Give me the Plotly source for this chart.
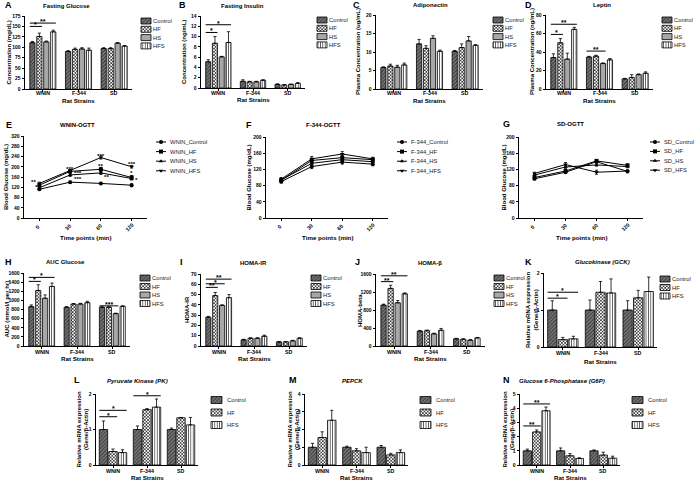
import plotly.graph_objects as go

W, H = 700, 483
FONT = "Liberation Sans, Arial, Helvetica, sans-serif"

STRAINS = ["WNIN", "F-344", "SD"]
DIETS4 = ["Control", "HF", "HS", "HFS"]
DIETS3 = ["Control", "HF", "HFS"]
TIMES = ["0", "30", "60", "120"]

# rows = diets, columns = strains (WNIN, F-344, SD)
glucose_mean = [[111, 90, 97], [126, 95, 97], [113, 96, 110], [137, 93, 103]]
glucose_sem = [[3, 2, 2], [8, 3, 2], [2, 3, 1], [4, 5, 1]]
insulin_mean = [[5.1, 1.3, 0.7], [8.7, 1.2, 0.6], [6.05, 1.2, 0.7], [8.85, 1.5, 0.9]]
insulin_sem = [[0.4, 0.3, 0.1], [1.3, 0.1, 0.05], [0.1, 0.1, 0.05], [2.1, 0.1, 0.15]]
adipo_mean = [[5.8, 12.2, 10.2], [6.2, 11.0, 11.2], [5.9, 13.7, 13.0], [6.5, 10.2, 11.8]]
adipo_sem = [[0.2, 1.2, 0.2], [0.5, 0.7, 1.0], [0.5, 0.7, 1.2], [0.5, 0.3, 0.2]]
leptin_mean = [[34, 34.5, 11], [50, 35.5, 12.5], [32.3, 27.5, 15.5], [64.5, 31.5, 17]]
leptin_sem = [[4, 0.8, 0.5], [4.5, 1, 3], [6.4, 0.7, 0.8], [2.2, 1.5, 1.5]]
auc_mean = [[863, 850, 850], [1217, 920, 850], [1047, 920, 710], [1305, 950, 870]]
auc_sem = [[37, 10, 10], [125, 10, 10], [73, 15, 10], [74, 30, 10]]
homa_ir_mean = [[28, 6, 4], [49, 7.5, 4], [39.5, 7.5, 5], [47, 9.5, 7.5]]
homa_ir_sem = [[0.8, 0.5, 0.3], [3, 0.5, 0.3], [0.5, 0.5, 0.5], [3, 1, 0.5]]
homa_b_mean = [[910, 330, 160], [1280, 340, 150], [960, 270, 130], [1160, 350, 180]]
homa_b_sem = [[20, 15, 10], [70, 15, 10], [50, 15, 10], [20, 40, 10]]
gck_mean = [[1.0, 1.0, 1.0], [0.2, 1.48, 1.33], [0.22, 1.46, 1.5]]
gck_sem = [[0.25, 0.27, 0.25], [0.06, 0.29, 0.2], [0.07, 0.38, 0.39]]
pk_mean = [[1.0, 1.0, 1.0], [0.38, 1.56, 1.33], [0.35, 1.63, 1.13]]
pk_sem = [[0.24, 0.1, 0.04], [0.07, 0.03, 0.01], [0.08, 0.23, 0.21]]
pepck_mean = [[1.0, 1.0, 1.0], [1.55, 0.8, 0.57], [2.52, 0.7, 0.7]]
pepck_sem = [[0.22, 0.06, 0.1], [0.32, 0.12, 0.09], [0.56, 0.3, 0.15]]
g6p_mean = [[1.0, 1.0, 1.0], [2.33, 0.65, 0.7], [3.82, 0.46, 0.48]]
g6p_sem = [[0.12, 0.2, 0.06], [0.14, 0.15, 0.2], [0.26, 0.05, 0.14]]

# OGTT: rows = diets (Control, HF, HS, HFS), columns = time points
wnin_ogtt = [[112, 140, 135, 128], [128, 182, 190, 158], [118, 168, 176, 154], [135, 184, 236, 200]]
wnin_ogtt_sem = [[4, 4, 4, 6], [5, 6, 8, 8], [4, 6, 6, 6], [5, 5, 6, 5]]
f344_ogtt = [[90, 127, 138, 133], [93, 142, 149, 144], [94, 135, 144, 139], [96, 146, 158, 146]]
f344_ogtt_sem = [[4, 5, 5, 4], [4, 5, 5, 4], [4, 6, 6, 5], [4, 6, 6, 4]]
sd_ogtt = [[97, 113, 139, 115], [100, 116, 141, 130], [106, 126, 131, 127], [110, 132, 113, 116]]
sd_ogtt_sem = [[3, 3, 3, 3], [3, 3, 3, 3], [3, 4, 3, 3], [3, 5, 5, 3]]

# significance brackets: (strain index, compared diet index, bracket level, label)
glucose_sig = [(0, 1, 150, "*"), (0, 3, 158, "**")]
insulin_sig = [(0, 1, 10.8, "*"), (0, 3, 12.3, "*")]
leptin_sig = [(0, 1, 59, "*"), (0, 3, 70, "**"), (1, 2, 41, "**")]
auc_sig = [(0, 1, 1416, "*"), (0, 3, 1504, "*"), (2, 2, 880, "***")]
homa_ir_sig = [(0, 1, 57, "**"), (0, 2, 60.5, "*"), (0, 3, 65, "**")]
homa_b_sig = [(0, 1, 1430, "**"), (0, 3, 1560, "**")]
gck_sig = [(0, 1, 1.32, "*"), (0, 2, 1.48, "*")]
pk_sig = [(0, 1, 1.36, "*"), (0, 2, 1.54, "*"), (1, 2, 1.95, "*")]
g6p_sig = [(0, 1, 2.75, "**"), (0, 2, 4.3, "**")]
# OGTT stars: (time position, glucose level, label)
wnin_ogtt_sig = [(-0.2, 145, "**"), (-0.1, 126, "*"), (1.0, 198, "***"), (1.26, 183, "***"),
                 (1.27, 160, "***"), (2.0, 248, "***"), (2.0, 210, "**"), (2.18, 165, "**"),
                 (3.0, 216, "***"), (3.0, 180, "*"), (3.15, 153, "*")]


def X(p):
    return p / W


def Y(p):
    return 1 - p / H


fig = go.Figure()
annotations = []
shapes = []
axes = {}

DIET_STYLE = {
    "Control": dict(bg="#7c7c7c", fg="#333333", shape="/", size=2.6, sol=0.4),
    "HF": dict(bg="#ffffff", fg="#1a1a1a", shape="x", size=2.3, sol=0.5),
    "HS": dict(bg="#d0d0d0", fg="#6a6a6a", shape="-", size=2.0, sol=0.4),
    "HFS": dict(bg="#ffffff", fg="#4a4a4a", shape="|", size=2.4, sol=0.35),
}
LINE_SYMBOL = {"Control": "circle", "HF": "square", "HS": "triangle-up", "HFS": "triangle-down"}
GEOM = {4: (0.78, 0.25), 3: (0.84, 0.12)}
LEG_FONT = 5.8
TICK_FONT = 5


def bar_marker(d):
    s = DIET_STYLE[d]
    return dict(color=s["bg"], line=dict(color="black", width=0.8),
                pattern=dict(shape=s["shape"], fgcolor=s["fg"], bgcolor=s["bg"],
                             size=s["size"], solidity=s["sol"], fillmode="replace"))


def names(i):
    s = "" if i == 1 else str(i)
    return "x" + s, "y" + s, "xaxis" + s, "yaxis" + s


def txt(x, y, s, size, bold=True, italic=False, angle=0, xa="center", ya="middle",
        xref="paper", yref="paper", yshift=0, xshift=0, color="black"):
    if bold:
        s = "<b>" + s + "</b>"
    if italic:
        s = "<i>" + s + "</i>"
    annotations.append(dict(x=x, y=y, xref=xref, yref=yref, text=s, showarrow=False,
                            xanchor=xa, yanchor=ya, textangle=angle, yshift=yshift,
                            xshift=xshift, borderpad=0,
                            font=dict(family=FONT, size=size, color=color)))


def setup_axes(i, box, ymax, dtick, ncat):
    xr, yr, xk, yk = names(i)
    l, r, t, b = box
    tf = dict(size=TICK_FONT, family=FONT, color="black")
    axes[xk] = dict(domain=[X(l), X(r)], range=[-0.5, ncat - 0.5], anchor=yr,
                    tickmode="array", tickvals=list(range(ncat)), showticklabels=False,
                    showline=True, linecolor="black", linewidth=1, ticks="outside",
                    ticklen=2, tickwidth=1, tickcolor="black",
                    showgrid=False, zeroline=False, automargin=False, fixedrange=True)
    nt = int(round(ymax / dtick))
    vals = [dtick * k for k in range(nt + 1)]
    axes[yk] = dict(domain=[Y(b), Y(t)], range=[0, ymax], anchor=xr, tickmode="array",
                    tickvals=vals, ticktext=["<b>%g</b>" % v for v in vals],
                    showline=True, linecolor="black", linewidth=1, ticks="outside",
                    ticklen=2.5, tickwidth=1, tickcolor="black", tickfont=tf,
                    showgrid=False, zeroline=False, automargin=False, fixedrange=True)
    return xr, yr


def decorate(letter, lpos, title, tpos, italic, ytitle, yx, box, xtitle, xty):
    l, r, t, b = box
    txt(X(lpos[0]), Y(lpos[1]), letter, 9, xa="left")
    txt(X(tpos[0]), Y(tpos[1]), title, 6, italic=italic)
    txt(X(yx), Y((t + b) / 2), ytitle, 6, angle=-90)
    txt(X((l + r) / 2), Y(xty), xtitle, 6.2)


# legend swatches (drawn in an overlay pixel axis)
swatch = {d: dict(x=[], w=[], base=[], h=[]) for d in DIETS4}


def bar_legend(diets, x0, y0, step, w=10, h=6, dx=11):
    for k, d in enumerate(diets):
        yc = y0 + k * step
        swatch[d]["x"].append(x0)
        swatch[d]["w"].append(w)
        swatch[d]["base"].append(yc - h / 2)
        swatch[d]["h"].append(h)
        txt(X(x0 + dx), Y(yc), d, LEG_FONT, bold=False, xa="left", color="#222")


def bar_panel(i, means, sems, diets, ymax, dtick, sig, box, letter, lpos, title, tpos,
              italic, ytitle, yx, lab_dy, leg):
    xr, yr = setup_axes(i, box, ymax, dtick, len(STRAINS))
    n = len(diets)
    G, gg = GEOM[n]
    slot = G / n
    bw = slot * (1 - gg)
    for j, d in enumerate(diets):
        off = -G / 2 + j * slot + slot * gg / 2
        fig.add_trace(go.Bar(
            x=list(range(len(STRAINS))), y=means[j], width=bw, offset=off,
            marker=bar_marker(d), xaxis=xr, yaxis=yr, showlegend=False, name=d,
            error_y=dict(type="data", symmetric=False, array=sems[j],
                         arrayminus=[0] * len(STRAINS), color="black",
                         thickness=0.8, width=1.6)))
    for (s, j, lev, lab) in sig:
        x_a = s - G / 2 + slot * 0.5 - bw / 2
        x_b = s - G / 2 + slot * (j + 0.5) + bw / 2
        shapes.append(dict(type="line", xref=xr, yref=yr, x0=x_a, x1=x_b, y0=lev, y1=lev,
                           line=dict(color="black", width=1)))
        txt((x_a + x_b) / 2, lev, lab, 7, xa="center", ya="bottom", xref=xr, yref=yr,
            yshift=-3)
    b = box[3]
    for k, s in enumerate(STRAINS):
        txt(k, Y(b + lab_dy[0]), s, 5.3, xref=xr)
    decorate(letter, lpos, title, tpos, italic, ytitle, yx, box, "Rat Strains", b + lab_dy[1])
    bar_legend(diets, *leg)


line_leg = dict(lx=[], ly=[], mk={d: ([], []) for d in DIETS4})


def line_panel(i, data, sems, prefix, ymax, dtick, box, letter, lpos, title, tpos, yx,
               leg, sig=()):
    xr, yr = setup_axes(i, box, ymax, dtick, len(TIMES))
    for j, d in enumerate(DIETS4):
        fig.add_trace(go.Scatter(
            x=list(range(len(TIMES))), y=data[j], mode="lines+markers", xaxis=xr, yaxis=yr,
            showlegend=False, name=prefix + d,
            line=dict(color="black", width=1),
            marker=dict(symbol=LINE_SYMBOL[d], size=4, color="black"),
            error_y=dict(type="data", array=sems[j], color="black", thickness=0.8, width=1.5)))
    for (tx, ty, lab) in sig:
        txt(tx, ty, lab, 6.2, xref=xr, yref=yr, ya="middle", yshift=-1)
    b = box[3]
    for k, t in enumerate(TIMES):
        txt(k, Y(b + 9), t, 5.3, angle=-45, xref=xr, xshift=-2)
    decorate(letter, lpos, title, tpos, False, "Blood Glucose (mg/dL)", yx, box,
             "Time points (min)", b + 20)
    x0, y0, step = leg
    for k, d in enumerate(DIETS4):
        yc = y0 + k * step
        line_leg["lx"] += [x0, x0 + 10, None]
        line_leg["ly"] += [yc, yc, None]
        line_leg["mk"][d][0].append(x0 + 5)
        line_leg["mk"][d][1].append(yc)
        txt(X(x0 + 13), Y(yc), prefix + d, LEG_FONT, bold=False, xa="left", color="#222")


RNA = "Relative mRNA expression<br>(Gene/β-Actin)"
R1 = (4.5, 11.5)
R3 = (5.5, 12.5)
R4 = (5.5, 12.5)

bar_panel(1, glucose_mean, glucose_sem, DIETS4, 175, 25, glucose_sig, (25, 132, 16, 89),
          "A", (4, 5), "Fasting Glucose", (66, 6), False, "Concentration (mg/dL)", 8, R1,
          (141, 21, 8.3))
bar_panel(2, insulin_mean, insulin_sem, DIETS4, 14, 2, insulin_sig, (201, 305, 16, 88),
          "B", (178, 5), "Fasting Insulin", (242, 6), False, "Concentration (ng/mL)", 184,
          R1, (317, 20, 8.3))
bar_panel(3, adipo_mean, adipo_sem, DIETS4, 20, 5, [], (376, 483, 15, 89),
          "C", (352, 5), "Adiponectin", (430, 5), False, "Plasma Concentration (ug/mL)", 358,
          R1, (493, 20, 8.3))
bar_panel(4, leptin_mean, leptin_sem, DIETS4, 80, 20, leptin_sig, (546, 653, 15, 89),
          "D", (524, 5), "Leptin", (602, 5), False, "Plasma Concentration (ng/mL)", 532,
          R1, (662, 20, 8.3))

line_panel(5, wnin_ogtt, wnin_ogtt_sem, "WNIN_", 320, 40, (24, 147, 136, 218), "E",
           (5, 125), "WNIN-OGTT", (77, 125), 6, (156, 142, 9.6), wnin_ogtt_sig)
line_panel(6, f344_ogtt, f344_ogtt_sem, "F-344_", 200, 40, (266, 388, 137, 218), "F",
           (245, 125), "F-344-OGTT", (323, 125), 248, (397, 142, 9.6))
line_panel(7, sd_ogtt, sd_ogtt_sem, "SD_", 200, 40, (519, 643, 137, 218), "G",
           (502, 124), "SD-OGTT", (570, 124), 503, (650, 142, 9.4))

bar_panel(8, auc_mean, auc_sem, DIETS4, 1600, 200, auc_sig, (24, 130, 273, 346),
          "H", (4, 262), "AUC Glucose", (65, 262), False, "AUC (mmol/l per hr)", 6, R3,
          (140, 278, 8.5))
bar_panel(9, homa_ir_mean, homa_ir_sem, DIETS4, 70, 10, homa_ir_sig, (201, 307, 274, 346),
          "I", (179, 262), "HOMA-IR", (253, 263), False, "HOMA-IR", 187, R3,
          (311, 278, 8.5))
bar_panel(10, homa_b_mean, homa_b_sem, DIETS4, 1600, 400, homa_b_sig, (376, 485, 274, 346),
          "J", (354, 262), "HOMA-β", (430, 263), False, "HOMA-beta", 360, R3,
          (494, 278, 8.5))
bar_panel(11, gck_mean, gck_sem, DIETS3, 2, 1, gck_sig, (544, 657, 273, 347),
          "K", (524, 262), "Glucokinase (GCK)", (602, 262), True, RNA, 532, (5.5, 14),
          (660, 279, 8.5))

bar_panel(12, pk_mean, pk_sem, DIETS3, 2, 1, pk_sig, (96, 198, 394, 465),
          "L", (73, 380), "Pyruvate Kinase (PK)", (137, 381), True, RNA, 82, R4,
          (211, 400, 12.5, 11, 7, 15))
bar_panel(13, pepck_mean, pepck_sem, DIETS3, 4, 1, [], (305, 408, 394, 465),
          "M", (288, 380), "PEPCK", (352, 381), True, RNA, 293, R4,
          (420, 400, 12.5, 11, 7, 15))
bar_panel(14, g6p_mean, g6p_sem, DIETS3, 5, 1, g6p_sig, (520, 620, 394, 465),
          "N", (502, 380), "Glucose 6-Phosphatase (G6P)", (562, 381), True, RNA, 508, R4,
          (632, 400, 12.5, 11, 7, 15))

# overlay pixel axis for legend keys
for d in DIETS4:
    sw = swatch[d]
    if sw["x"]:
        fig.add_trace(go.Bar(x=sw["x"], y=sw["h"], base=sw["base"], width=sw["w"],
                             offset=[0] * len(sw["x"]), marker=bar_marker(d),
                             xaxis="x15", yaxis="y15", showlegend=False, hoverinfo="skip"))
fig.add_trace(go.Scatter(x=line_leg["lx"], y=line_leg["ly"], mode="lines",
                         line=dict(color="black", width=1), xaxis="x15", yaxis="y15",
                         showlegend=False, hoverinfo="skip"))
for d in DIETS4:
    mx, my = line_leg["mk"][d]
    fig.add_trace(go.Scatter(x=mx, y=my, mode="markers",
                             marker=dict(symbol=LINE_SYMBOL[d], size=4, color="black"),
                             xaxis="x15", yaxis="y15", showlegend=False, hoverinfo="skip"))
axes["xaxis15"] = dict(domain=[0, 1], range=[0, W], visible=False, fixedrange=True)
axes["yaxis15"] = dict(domain=[0, 1], range=[H, 0], visible=False, fixedrange=True,
                       anchor="x15")

fig.update_layout(
    width=W, height=H, margin=dict(l=0, r=0, t=0, b=0),
    paper_bgcolor="white", plot_bgcolor="rgba(0,0,0,0)",
    font=dict(family=FONT, color="black"),
    showlegend=False, annotations=annotations, shapes=shapes, **axes)

fig.write_html("out.html", config={"displayModeBar": False},
               post_script="document.body.style.margin='0';document.body.style.overflow='hidden';")
